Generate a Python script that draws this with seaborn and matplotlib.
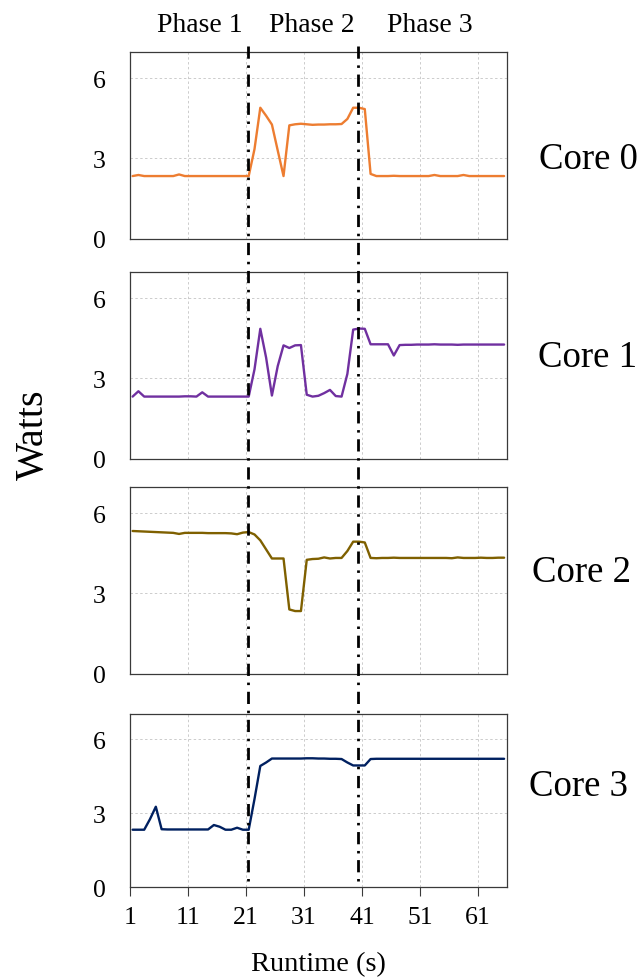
import numpy as np
import pandas as pd
import matplotlib
matplotlib.use("Agg")
import matplotlib.pyplot as plt
import seaborn as sns
from matplotlib.lines import Line2D
from matplotlib import transforms

# ---------------- data ----------------
runtime = np.arange(1.5, 66.0, 1.0)  # sample times (s), 65 samples

core0 = [2.34, 2.38, 2.34, 2.34, 2.34, 2.34, 2.34, 2.34, 2.40, 2.34,
         2.34, 2.34, 2.34, 2.34, 2.34, 2.34, 2.34, 2.34, 2.34, 2.34,
         2.34, 3.35, 4.90, 4.60, 4.27, 3.30, 2.34, 4.24, 4.28, 4.30,
         4.28, 4.26, 4.27, 4.27, 4.28, 4.28, 4.29, 4.48, 4.90, 4.90,
         4.85, 2.42, 2.34, 2.34, 2.34, 2.35, 2.34, 2.34, 2.34, 2.34,
         2.34, 2.34, 2.38, 2.34, 2.34, 2.34, 2.34, 2.38, 2.34, 2.34,
         2.34, 2.34, 2.34, 2.34, 2.34]

core1 = [2.32, 2.52, 2.32, 2.32, 2.32, 2.32, 2.32, 2.32, 2.32, 2.33,
         2.33, 2.32, 2.48, 2.32, 2.32, 2.32, 2.32, 2.32, 2.32, 2.32,
         2.32, 3.34, 4.86, 3.78, 2.36, 3.46, 4.24, 4.14, 4.24, 4.25,
         2.39, 2.32, 2.35, 2.45, 2.57, 2.34, 2.32, 3.17, 4.83, 4.87,
         4.86, 4.28, 4.28, 4.28, 4.28, 3.86, 4.25, 4.26, 4.26, 4.27,
         4.27, 4.27, 4.28, 4.27, 4.27, 4.27, 4.26, 4.27, 4.27, 4.27,
         4.27, 4.27, 4.27, 4.27, 4.27]

core2 = [5.34, 5.33, 5.32, 5.31, 5.30, 5.29, 5.28, 5.27, 5.23, 5.27,
         5.27, 5.27, 5.27, 5.26, 5.26, 5.26, 5.26, 5.25, 5.22, 5.28,
         5.30, 5.21, 4.99, 4.65, 4.31, 4.31, 4.31, 2.40, 2.34, 2.34,
         4.26, 4.29, 4.30, 4.35, 4.31, 4.33, 4.33, 4.59, 4.94, 4.94,
         4.91, 4.33, 4.32, 4.33, 4.33, 4.34, 4.33, 4.33, 4.33, 4.33,
         4.33, 4.33, 4.33, 4.33, 4.33, 4.32, 4.35, 4.33, 4.33, 4.33,
         4.34, 4.33, 4.33, 4.34, 4.34]

core3 = [2.33, 2.33, 2.33, 2.76, 3.26, 2.35, 2.34, 2.34, 2.34, 2.34,
         2.34, 2.34, 2.34, 2.34, 2.52, 2.45, 2.33, 2.33, 2.41, 2.33,
         2.33, 3.57, 4.91, 5.05, 5.21, 5.21, 5.21, 5.21, 5.21, 5.21,
         5.22, 5.22, 5.21, 5.21, 5.20, 5.20, 5.19, 5.05, 4.93, 4.93,
         4.93, 5.19, 5.20, 5.20, 5.20, 5.20, 5.20, 5.20, 5.20, 5.20,
         5.20, 5.20, 5.20, 5.20, 5.20, 5.20, 5.20, 5.20, 5.20, 5.20,
         5.20, 5.20, 5.20, 5.20, 5.20]

core_names = ["Core 0", "Core 1", "Core 2", "Core 3"]
core_colors = ["#ED7D31", "#7030A0", "#7F6000", "#002060"]
phase_labels = ["Phase 1", "Phase 2", "Phase 3"]
phase_bounds = [21.3, 40.3]
x_ticks = [1, 11, 21, 31, 41, 51, 61]
y_ticks = [0, 3, 6]

# ---------------- style ----------------
sns.set_theme(style="white")
plt.rcParams["font.family"] = ["Liberation Serif", "DejaVu Serif"]

W, H = 640, 979
fig = plt.figure(figsize=(W / 100, H / 100), dpi=100)

left_px, right_px = 129.7, 507.0
panels_px = [(52.7, 239.5), (272.7, 459.5), (487.7, 674.5), (715.3, 888.3)]
label_pos_px = [(588, 160), (588, 358), (582, 573), (578, 787)]
phase_pos_px = [(200, 25), (312, 25), (430, 25)]

series = [core0, core1, core2, core3]
axes = []
for i, ((top, bot), name, color, vals) in enumerate(zip(panels_px, core_names, core_colors, series)):
    ax = fig.add_axes([left_px / W, 1 - bot / H, (right_px - left_px) / W, (bot - top) / H])
    df = pd.DataFrame({"Runtime": runtime, "Watts": vals})
    sns.lineplot(data=df, x="Runtime", y="Watts", ax=ax, color=color, linewidth=1.7)
    ax.set_xlim(1, 66)
    ax.set_ylim(0, 7)
    ax.set_xticks(x_ticks)
    ax.set_yticks(y_ticks)
    ax.set_xlabel("")
    ax.set_ylabel("")
    ax.grid(True, color="#cccccc", linewidth=0.7, linestyle=(0, (2.5, 2.5)))
    for sp in ax.spines.values():
        sp.set_visible(True)
        sp.set_color("#3a3a3a")
        sp.set_linewidth(0.9)
    ax.tick_params(axis="y", left=False, length=0, pad=17, labelsize=18.5, labelcolor="black")
    if i == len(series) - 1:
        ax.tick_params(axis="x", bottom=True, length=6.5, width=0.8, direction="out",
                       pad=7, labelsize=18.5, color="#3a3a3a", labelcolor="black")
        ax.set_xticklabels([str(t) for t in x_ticks])
    else:
        ax.tick_params(axis="x", bottom=False, length=0, labelbottom=False)
    lx, ly = label_pos_px[i]
    fig.text(lx / W, 1 - ly / H, name, ha="center", va="center", fontsize=26.5, color="black")
    axes.append(ax)

# phase boundaries spanning all panels
trans = transforms.blended_transform_factory(axes[-1].transData, fig.transFigure)
for xb in phase_bounds:
    fig.add_artist(Line2D([xb, xb], [1 - 47 / H, 1 - 887 / H], transform=trans,
                          color="black", linewidth=2.0,
                          linestyle=(0, (4.4, 2.4, 0.9, 2.4)), dash_capstyle="butt",
                          zorder=5))

for (px, py), lab in zip(phase_pos_px, phase_labels):
    fig.text(px / W, 1 - py / H, lab, ha="center", va="center", fontsize=20, color="black")

fig.text(33 / W, 1 - 435 / H, "Watts", rotation=90, ha="center", va="center", fontsize=29, color="black")
fig.text(318 / W, 1 - 965 / H, "Runtime (s)", ha="center", va="center", fontsize=20.5, color="black")

fig.savefig("out.png", dpi=100)
